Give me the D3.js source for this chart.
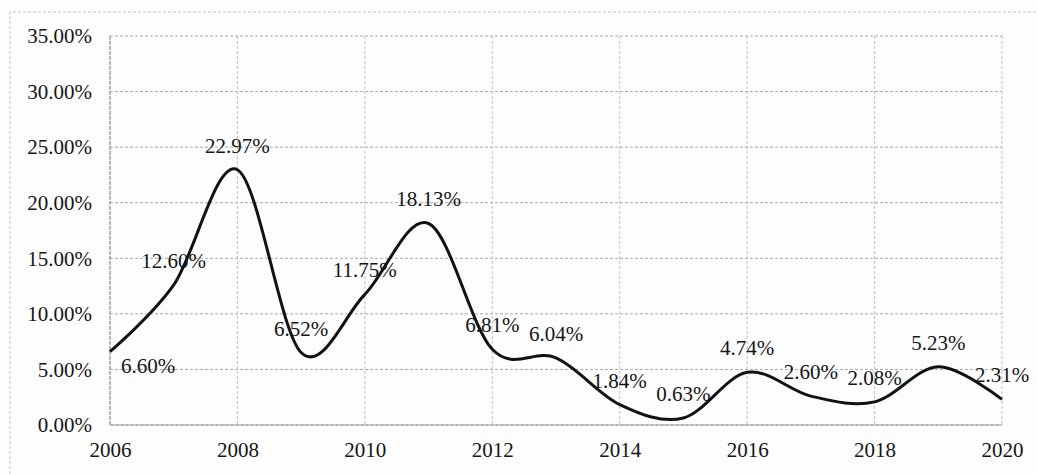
<!DOCTYPE html>
<html>
<head>
<meta charset="utf-8">
<script src="https://cdn.jsdelivr.net/npm/d3@7"></script>
<style>
  body { margin: 0; background: #fdfdfd; }
  text { font-family: "Liberation Serif", "DejaVu Serif", serif; fill: #151515; }
</style>
</head>
<body>
<svg id="chart"></svg>
<script>
// Yearly rate 2006-2020, smoothed line with data labels

const years = [2006, 2007, 2008, 2009, 2010, 2011, 2012, 2013, 2014, 2015, 2016, 2017, 2018, 2019, 2020];
const rates = [6.60, 12.60, 22.97, 6.52, 11.75, 18.13, 6.81, 6.04, 1.84, 0.63, 4.74, 2.60, 2.08, 5.23, 2.31];
const yTicks = [0, 5, 10, 15, 20, 25, 30, 35];
const xTicks = [2006, 2008, 2010, 2012, 2014, 2016, 2018, 2020];

const chartWidth = 1038;
const chartHeight = 474;

const svg = d3.select("#chart")
    .attr("width", chartWidth)
    .attr("height", chartHeight);

const margin = { top: 36, right: 36, bottom: 49, left: 110 };
const width = chartWidth - margin.left - margin.right;
const height = chartHeight - margin.top - margin.bottom;

// outer chart frame (only top and left edges are visible in the scan)
svg.append("path")
    .attr("d", `M10,${chartHeight} V12 H${chartWidth}`)
    .attr("fill", "none")
    .attr("stroke", "#c4c4c4")
    .attr("stroke-dasharray", "3,2");

const g = svg.append("g")
    .attr("transform", `translate(${margin.left}, ${margin.top})`);

const xScale = d3.scaleLinear().domain([2006, 2020]).range([0, width]);
const yScale = d3.scaleLinear().domain([0, 35]).range([height, 0]);

// gridlines
g.append("g")
    .selectAll("line")
    .data(yTicks)
    .join("line")
    .attr("x1", 0)
    .attr("x2", width)
    .attr("y1", d => yScale(d))
    .attr("y2", d => yScale(d))
    .attr("stroke", "#a8a8a8")
    .attr("stroke-dasharray", "3,2");

g.append("g")
    .selectAll("line")
    .data(xTicks)
    .join("line")
    .attr("x1", d => xScale(d))
    .attr("x2", d => xScale(d))
    .attr("y1", 0)
    .attr("y2", height)
    .attr("stroke", "#c0c0c0")
    .attr("stroke-dasharray", "3,2");

// axes
const yAxis = d3.axisLeft(yScale)
    .tickValues(yTicks)
    .tickFormat(d => d.toFixed(2) + "%")
    .tickSize(0)
    .tickPadding(18);

const xAxis = d3.axisBottom(xScale)
    .tickValues(xTicks)
    .tickFormat(d3.format("d"))
    .tickSize(0)
    .tickPadding(17);

g.append("g")
    .attr("class", "y-axis")
    .call(yAxis)
    .call(a => a.select(".domain").remove())
    .selectAll("text")
    .attr("font-size", "21px");

g.append("g")
    .attr("class", "x-axis")
    .attr("transform", `translate(0, ${height})`)
    .call(xAxis)
    .call(a => a.select(".domain").remove())
    .selectAll("text")
    .attr("font-size", "21px");

// plot frame left/bottom a bit darker
g.append("path")
    .attr("d", `M0,0 V${height} H${width}`)
    .attr("fill", "none")
    .attr("stroke", "#8c8c8c")
    .attr("stroke-dasharray", "4,1");

// smoothed line
const points = years.map((y, i) => ({ year: y, value: rates[i] }));

const line = d3.line()
    .x(d => xScale(d.year))
    .y(d => yScale(d.value))
    .curve(d3.curveCardinal.tension(0));

g.append("path")
    .datum(points)
    .attr("fill", "none")
    .attr("stroke", "#121212")
    .attr("stroke-width", 3)
    .attr("stroke-linejoin", "round")
    .attr("d", line);

// data labels: above the point, except the first one sits right-below
g.append("g")
    .selectAll("text")
    .data(points)
    .join("text")
    .attr("x", (d, i) => xScale(d.year) + (i === 0 ? 38 : 0))
    .attr("y", (d, i) => yScale(d.value) + (i === 0 ? 14 : -24))
    .attr("text-anchor", "middle")
    .attr("dominant-baseline", "central")
    .attr("font-size", "21px")
    .text(d => d.value.toFixed(2) + "%");
</script>
</body>
</html>
